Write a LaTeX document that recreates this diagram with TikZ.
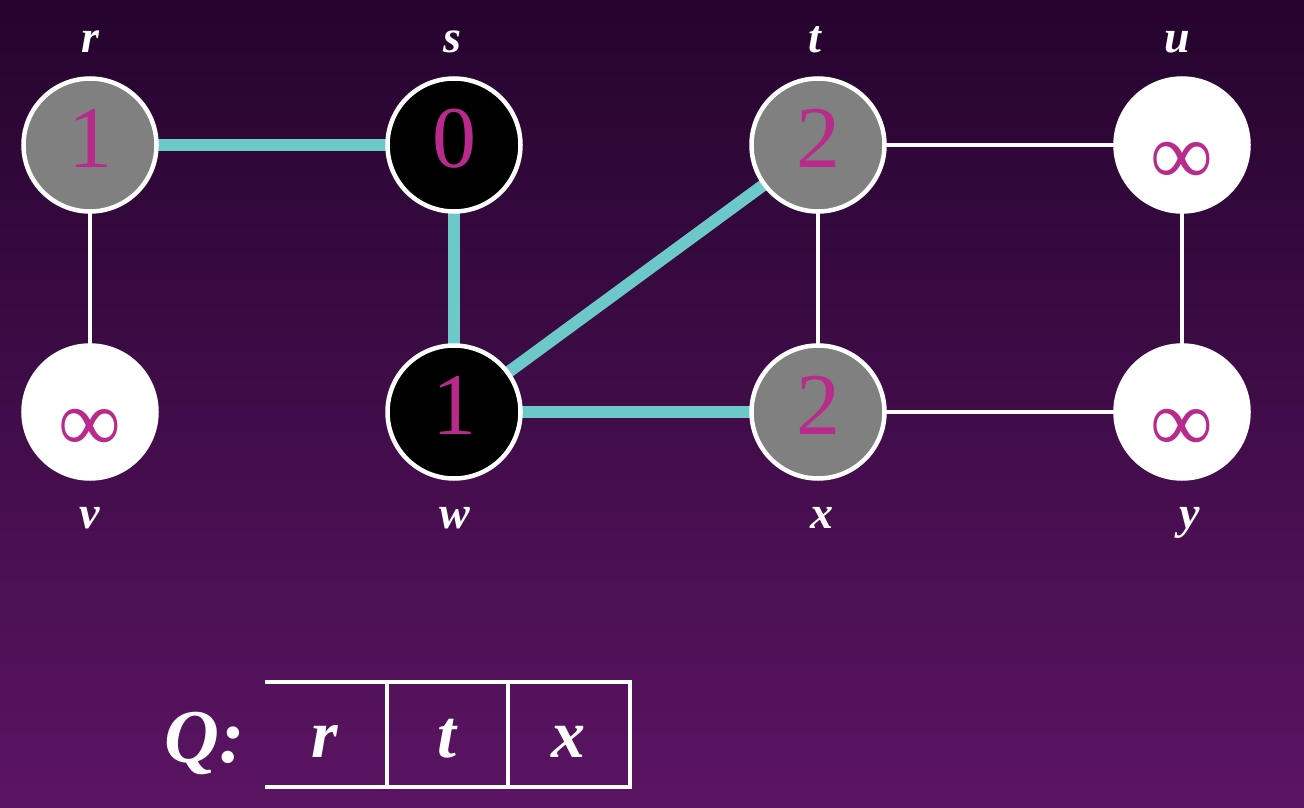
\documentclass[tikz,border=0pt]{standalone}
\usepackage{fontspec}
\setmainfont{Liberation Serif}
\pgfdeclarelayer{bg}
\pgfdeclarelayer{edges}
\pgfsetlayers{bg,edges,main}
\definecolor{bgtop}{RGB}{37,4,46}
\definecolor{bgbot}{RGB}{91,20,99}
\definecolor{dist}{RGB}{184,42,140}
\definecolor{tree}{RGB}{109,201,201}
\definecolor{vgray}{RGB}{128,128,128}
\tikzset{
  vert/.style={circle, draw=white, line width=4.5pt, minimum size=133pt, inner sep=0pt},
  grayv/.style={vert, fill=vgray},
  blackv/.style={vert, fill=black},
  whitev/.style={vert, fill=white},
  dval/.style={anchor=base, text=dist, font=\fontsize{88}{88}\selectfont, inner sep=0pt},
  infval/.style={dval, yshift=-17pt},
  vname/.style={anchor=base, text=white, font=\fontsize{46}{46}\selectfont\bfseries\itshape, inner sep=0pt},
  treeedge/.style={draw=tree, line width=12pt},
  plainedge/.style={draw=white, line width=4pt},
  qline/.style={draw=white, line width=4pt},
  qtext/.style={anchor=base, text=white, font=\fontsize{68}{68}\selectfont\bfseries\itshape, inner sep=0pt}
}
\begin{document}
\begin{tikzpicture}[x=1pt, y=-1pt]
\begin{pgfonlayer}{bg}
  \shade[top color=bgtop, bottom color=bgbot] (0,0) rectangle (1304,808);
\end{pgfonlayer}
\useasboundingbox (0,0) rectangle (1304,808);

% vertices
\node[grayv]  (r) at (90,145) {};
\node[blackv] (s) at (454,145) {};
\node[grayv]  (t) at (818,145) {};
\node[whitev] (u) at (1182,145) {};
\node[whitev] (v) at (90,412) {};
\node[blackv] (w) at (454,412) {};
\node[grayv]  (x) at (818,412) {};
\node[whitev] (y) at (1182,412) {};

% distances
\node[dval] (dr) at ([yshift=-22pt]r.center) {1};
\node[dval] (ds) at ([yshift=-22pt]s.center) {0};
\node[dval] (dt) at ([yshift=-22pt]t.center) {2};
\node[infval] (du) at ([yshift=-22pt]u.center) {∞};
\node[infval] (dv) at ([yshift=-22pt]v.center) {∞};
\node[dval] (dw) at ([yshift=-22pt]w.center) {1};
\node[dval] (dx) at ([yshift=-22pt]x.center) {2};
\node[infval] (dy) at ([yshift=-22pt]y.center) {∞};

% vertex names
\node[vname] (nr) at (90,53) {r};
\node[vname] (ns) at (452,53) {s};
\node[vname] (nt) at (815,53) {t};
\node[vname] (nu) at (1177,53) {u};
\node[vname] (nv) at (90,528) {v};
\node[vname] (nw) at (455,528) {w};
\node[vname] (nx) at (822,528) {x};
\node[vname] (ny) at (1190,528) {y};

% edges
\begin{pgfonlayer}{edges}
  \draw[treeedge] (r.center) -- (s.center);
  \draw[treeedge] (s.center) -- (w.center);
  \draw[treeedge] (w.center) -- (t.center);
  \draw[treeedge] (w.center) -- (x.center);
  \draw[plainedge] (r.center) -- (v.center);
  \draw[plainedge] (t.center) -- (u.center);
  \draw[plainedge] (t.center) -- (x.center);
  \draw[plainedge] (u.center) -- (y.center);
  \draw[plainedge] (x.center) -- (y.center);
\end{pgfonlayer}

% queue
\node[qtext, font=\fontsize{76}{76}\selectfont\bfseries\itshape] (qlab) at (205,762) {Q:};
\coordinate (q0t) at (265,682);
\coordinate (q0b) at (265,787);
\coordinate (q1t) at (387,682);
\coordinate (q1b) at (387,787);
\coordinate (q2t) at (508,682);
\coordinate (q2b) at (508,787);
\coordinate (q3t) at (630,682);
\coordinate (q3b) at (630,787);
\draw[qline] (q0t) -- (q3t) -- (q3b) -- (q0b);
\draw[qline] (q1t) -- (q1b);
\draw[qline] (q2t) -- (q2b);
\node[qtext] (qr) at (325,757) {r};
\node[qtext] (qt) at (447,757) {t};
\node[qtext] (qx) at (568,757) {x};
\end{tikzpicture}
\end{document}
